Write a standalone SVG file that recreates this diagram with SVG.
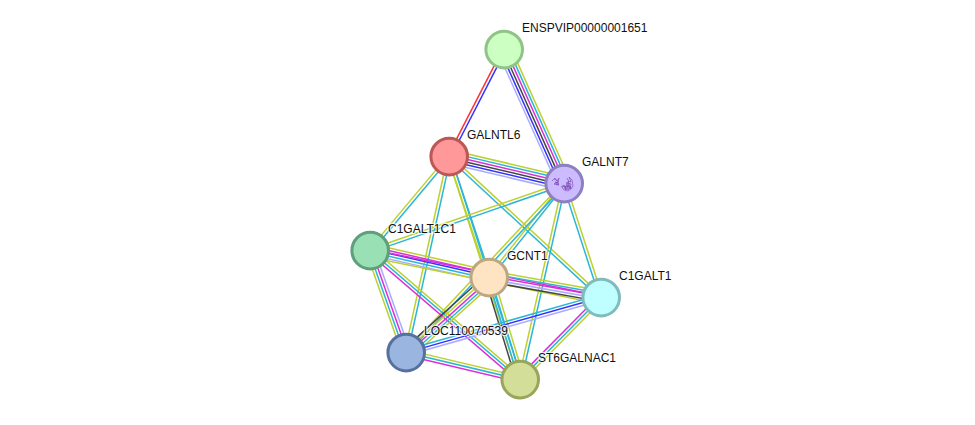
<svg xmlns="http://www.w3.org/2000/svg" width="975" height="425" viewBox="0 0 975 425">
<style>
text{font-family:"Liberation Sans",Arial,sans-serif;font-size:12px;fill:#111;stroke:#fff;stroke-width:2.5px;stroke-opacity:.75;paint-order:stroke;stroke-linejoin:round}
#edges line{stroke-width:1.5;fill:none}
.y{stroke:#bcd12f}.c{stroke:#2cb6d6}.m{stroke:#d92fd9}.k{stroke:#444}.b{stroke:#3232ff}.r{stroke:#ff3232}.l{stroke:#aaaaff}
circle{stroke-width:3}
.fold{fill:none;stroke:#8050b8;stroke-width:.7}
</style>
<rect width="975" height="425" fill="#fff"/>
<g id="edges" transform="translate(.2 .6)">
<g transform="translate(504 49) rotate(117.2)"><line x2="120" y1="1.5" y2="1.5" class="r"/><line x2="120" y1="-1.5" y2="-1.5" class="b"/></g>
<g transform="translate(504 49) rotate(65.9)"><line x2="147" y1="-6.8" y2="-6.8" class="y"/><line x2="147" y1="-4.1" y2="-4.1" class="c"/><line x2="147" y1="-1.4" y2="-1.4" class="m"/><line x2="147" y1="1.4" y2="1.4" class="k"/><line x2="147" y1="4.1" y2="4.1" class="b"/><line x2="147" y1="6.8" y2="6.8" class="l"/></g>
<g transform="translate(449 156) rotate(13.2)"><line x2="118" y1="-6.8" y2="-6.8" class="y"/><line x2="118" y1="-4.1" y2="-4.1" class="c"/><line x2="118" y1="-1.4" y2="-1.4" class="m"/><line x2="118" y1="1.4" y2="1.4" class="k"/><line x2="118" y1="4.1" y2="4.1" class="b"/><line x2="118" y1="6.8" y2="6.8" class="l"/></g>
<g transform="translate(449 156) rotate(130)"><line x2="123" y1="-1.5" y2="-1.5" class="c"/><line x2="123" y1="1.5" y2="1.5" class="y"/></g>
<g transform="translate(449 156) rotate(71.7)"><line x2="127" y1="1.5" y2="1.5" class="y"/><line x2="127" y1="-1.5" y2="-1.5" class="c"/></g>
<g transform="translate(449 156) rotate(102.4)"><line x2="201" y1="-1.5" y2="-1.5" class="c"/><line x2="201" y1="1.5" y2="1.5" class="y"/></g>
<g transform="translate(449 156) rotate(72.3)"><line x2="234" y1="1.5" y2="1.5" class="y"/><line x2="234" y1="-1.5" y2="-1.5" class="c"/></g>
<g transform="translate(449 156) rotate(42.8)"><line x2="207" y1="-1.5" y2="-1.5" class="y"/><line x2="207" y1="1.5" y2="1.5" class="c"/></g>
<g transform="translate(564 183) rotate(160.9)"><line x2="205" y1="1.5" y2="1.5" class="y"/><line x2="205" y1="-1.5" y2="-1.5" class="c"/></g>
<g transform="translate(564 183) rotate(128.6)"><line x2="120" y1="1.5" y2="1.5" class="y"/><line x2="120" y1="-1.5" y2="-1.5" class="c"/></g>
<g transform="translate(564 183) rotate(133.1)"><line x2="231" y1="1.5" y2="1.5" class="y"/><line x2="231" y1="-1.5" y2="-1.5" class="c"/></g>
<g transform="translate(564 183) rotate(102.7)"><line x2="201" y1="1.5" y2="1.5" class="y"/><line x2="201" y1="-1.5" y2="-1.5" class="c"/></g>
<g transform="translate(564 183) rotate(72)"><line x2="120" y1="1.5" y2="1.5" class="c"/><line x2="120" y1="-1.5" y2="-1.5" class="y"/></g>
<g transform="translate(370 250) rotate(12.8)"><line x2="122" y1="-6.8" y2="-6.8" class="y"/><line x2="122" y1="-4.1" y2="-4.1" class="m"/><line x2="122" y1="-1.4" y2="-1.4" class="b"/><line x2="122" y1="1.4" y2="1.4" class="c"/><line x2="122" y1="4.1" y2="4.1" class="l"/></g>
<g transform="translate(370 250) rotate(11.5)"><line x2="236" y1="6.5" y2="6.5" class="y"/><line x2="236" y1="-1.4" y2="-1.4" class="m"/></g>
<g transform="translate(370 250) rotate(70.6)"><line x2="108" y1="4.2" y2="4.2" class="y"/><line x2="108" y1="1.4" y2="1.4" class="c"/><line x2="108" y1="-1.4" y2="-1.4" class="m"/><line x2="108" y1="-4.2" y2="-4.2" class="l"/></g>
<g transform="translate(370 250) rotate(40.7)"><line x2="198" y1="2.8" y2="2.8" class="m"/><line x2="198" y1="0" y2="0" class="c"/><line x2="198" y1="-2.8" y2="-2.8" class="y"/></g>
<g transform="translate(489 277) rotate(10.1)"><line x2="114" y1="-6.8" y2="-6.8" class="y"/><line x2="114" y1="-4.1" y2="-4.1" class="c"/><line x2="114" y1="-1.4" y2="-1.4" class="m"/><line x2="114" y1="1.4" y2="1.4" class="l"/><line x2="114" y1="4.1" y2="4.1" class="k"/></g>
<g transform="translate(489 277) rotate(137.9)"><line x2="112" y1="4.2" y2="4.2" class="k"/><line x2="112" y1="1.4" y2="1.4" class="y"/><line x2="112" y1="-1.4" y2="-1.4" class="m"/><line x2="112" y1="-4.2" y2="-4.2" class="c"/><line x2="112" y1="-6.8" y2="-6.8" class="y"/></g>
<g transform="translate(489 277) rotate(73.1)"><line x2="107" y1="4.2" y2="4.2" class="k"/><line x2="107" y1="1.4" y2="1.4" class="c"/><line x2="107" y1="-1.4" y2="-1.4" class="c"/><line x2="107" y1="-4.2" y2="-4.2" class="y"/></g>
<g transform="translate(406 352) rotate(13.3)"><line x2="117" y1="-2.8" y2="-2.8" class="y"/><line x2="117" y1="0" y2="0" class="c"/><line x2="117" y1="2.8" y2="2.8" class="m"/></g>
<g transform="translate(406 352) rotate(-15.8)"><line x2="203" y1="-2.8" y2="-2.8" class="c"/><line x2="203" y1="0" y2="0" class="b"/><line x2="203" y1="2.8" y2="2.8" class="l"/></g>
<g transform="translate(520 379) rotate(-45.4)"><line x2="115" y1="-2.8" y2="-2.8" class="m"/><line x2="115" y1="0" y2="0" class="c"/><line x2="115" y1="2.8" y2="2.8" class="y"/></g>
</g>
<g id="ENSPVIP00000001651"><circle cx="504.2" cy="49.6" r="18.3" fill="#ccffc2" stroke="#90c486"/><text x="522" y="32">ENSPVIP00000001651</text></g>
<g id="GALNTL6"><circle cx="449.2" cy="156.6" r="18.3" fill="#ff9999" stroke="#bb5757"/><text x="467" y="139">GALNTL6</text></g>
<g id="GALNT7"><circle cx="564.2" cy="183.6" r="18.3" fill="#ccbbff" stroke="#8c80c0"/>
<path class="fold" d="M552 181l3-3 2 3 2-3-1 5-3-1 4 3-5-1 3-2 2 2-3 1M554 179l4 2-2 3M561 187l3-2 1 4 2-5 1 6 2-4 1 3-3-8 3 1-2-5 3 3 1 6-2 3-3 2-4-1-2-3 3-1 1 4 2-5 2 4 1-5-3-1 1 4-4-1 1 4M567 178l2 4-3 1 3 1"/><text x="582" y="166">GALNT7</text></g>
<g id="C1GALT1C1"><circle cx="370.2" cy="250.6" r="18.3" fill="#99e0b5" stroke="#5f9f7c"/><text x="388" y="233">C1GALT1C1</text></g>
<g id="GCNT1"><circle cx="489.2" cy="277.6" r="18.3" fill="#ffe4c4" stroke="#bca781"/><text x="507" y="260">GCNT1</text></g>
<g id="C1GALT1"><circle cx="601.2" cy="297.6" r="18.3" fill="#bfffff" stroke="#80bcbc"/><text x="619" y="280">C1GALT1</text></g>
<g id="LOC110070539"><circle cx="406.2" cy="352.6" r="18.3" fill="#9ab5df" stroke="#56719f"/><text x="424" y="335">LOC110070539</text></g>
<g id="ST6GALNAC1"><circle cx="520.2" cy="379.6" r="18.3" fill="#d3df99" stroke="#98a65c"/><text x="538" y="362">ST6GALNAC1</text></g>
</svg>
